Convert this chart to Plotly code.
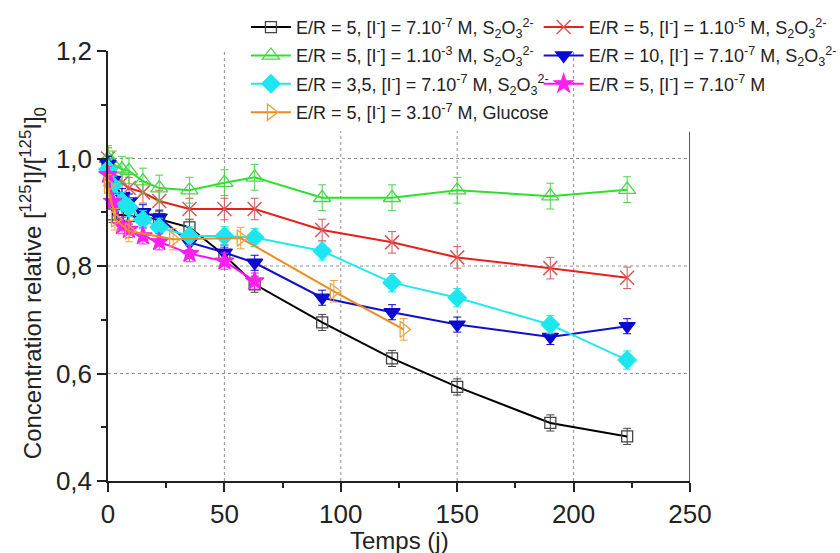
import plotly.graph_objects as go

# ---------------- data ----------------
t_common = [0, 2, 6, 9, 15, 22, 35, 50, 63, 92, 122, 150, 190, 223]
t_glucose = [0, 3, 9, 28, 57, 97, 127]

black_vals = [0.99, 0.896, 0.895, 0.893, 0.89, 0.887, 0.872, 0.82, 0.766, 0.695, 0.628, 0.575, 0.508, 0.483]
black_err = [0.015] * 14
red_vals = [1.0, 0.975, 0.955, 0.945, 0.937, 0.921, 0.906, 0.906, 0.906, 0.867, 0.844, 0.816, 0.796, 0.778]
red_err = [0.02] * 14
green_vals = [1.0, 0.99, 0.98, 0.977, 0.958, 0.945, 0.941, 0.955, 0.965, 0.927, 0.927, 0.941, 0.93, 0.942]
green_err = [0.024] * 14
blue_vals = [0.99, 0.96, 0.93, 0.92, 0.9, 0.89, 0.844, 0.825, 0.806, 0.741, 0.714, 0.691, 0.668, 0.688]
blue_err = [0.014] * 14
cyan_vals = [0.98, 0.95, 0.92, 0.909, 0.886, 0.872, 0.856, 0.856, 0.853, 0.828, 0.769, 0.741, 0.691, 0.625]
cyan_err = [0.017] * 14
magenta_vals = [0.97, 0.92, 0.875, 0.868, 0.856, 0.845, 0.823, 0.809, 0.772]
magenta_err = [0.015] * 9
orange_vals = [0.95, 0.887, 0.865, 0.85, 0.852, 0.753, 0.682]
orange_err = [0.02] * 7

names = [
    "E/R = 5, [I<sup>-</sup>] = 7.10<sup>-7</sup> M, S<sub>2</sub>O<sub>3</sub><sup>2-</sup>",
    "E/R = 5, [I<sup>-</sup>] = 1.10<sup>-5</sup> M, S<sub>2</sub>O<sub>3</sub><sup>2-</sup>",
    "E/R = 5, [I<sup>-</sup>] = 1.10<sup>-3</sup> M, S<sub>2</sub>O<sub>3</sub><sup>2-</sup>",
    "E/R = 10, [I<sup>-</sup>] = 7.10<sup>-7</sup> M, S<sub>2</sub>O<sub>3</sub><sup>2-</sup>",
    "E/R = 3,5, [I<sup>-</sup>] = 7.10<sup>-7</sup> M, S<sub>2</sub>O<sub>3</sub><sup>2-</sup>",
    "E/R = 5, [I<sup>-</sup>] = 7.10<sup>-7</sup> M",
    "E/R = 5, [I<sup>-</sup>] = 3.10<sup>-7</sup> M, Glucose",
]

x_ticks = [0, 50, 100, 150, 200, 250]
y_ticks = [0.4, 0.6, 0.8, 1.0, 1.2]
grid_x = [50, 100, 150, 200]
grid_y = [0.6, 0.8, 1.0]

FONT = "Liberation Sans, Arial, sans-serif"
TXT = "#222222"

fig = go.Figure()


def add(x, y, err, name, line_col, mk_col, symbol, size, legend, group, mlw=1.3):
    fig.add_trace(go.Scatter(
        x=x, y=y, name=name, mode="lines+markers", legend=legend, legendgroup=group,
        line=dict(color=line_col, width=2),
        marker=dict(symbol=symbol, size=size, color=mk_col,
                    line=dict(color=mk_col, width=mlw)),
        error_y=dict(type="data", array=err, visible=True, color=mk_col,
                     thickness=1, width=4),
        cliponaxis=False,
    ))


add(t_common, black_vals, black_err, names[0], "#000000", "#444444", "square-open", 11, "legend", "g1")
add(t_common, red_vals, red_err, names[1], "#e8201c", "#d45a5a", "x-thin-open", 14, "legend2", "g2", mlw=1.5)
add(t_common, green_vals, green_err, names[2], "#2ee02e", "#4cd44c", "triangle-up-open", 15, "legend", "g3")
add(t_common, blue_vals, blue_err, names[3], "#1010c8", "#0a0ad0", "triangle-down", 14, "legend2", "g4")
add(t_common, cyan_vals, cyan_err, names[4], "#22e8ee", "#1ee6f0", "diamond", 14, "legend", "g5")
add(t_common[:9], magenta_vals, magenta_err, names[5], "#ff10ff", "#ff20f0", "star", 14, "legend2", "g6")
add(t_glucose, orange_vals, orange_err, names[6], "#f08a20", "#f0a040", "triangle-right-open", 14, "legend", "g7")

# grid lines (dotted)
shapes = []
for gx in grid_x:
    shapes.append(dict(type="line", xref="x", yref="y", x0=gx, x1=gx, y0=0.4, y1=1.2,
                       line=dict(color="#909090", width=1, dash="dot"), layer="below"))
for gy in grid_y:
    shapes.append(dict(type="line", xref="x", yref="y", x0=0, x1=250, y0=gy, y1=gy,
                       line=dict(color="#909090", width=1, dash="dot"), layer="below"))
# right frame line
shapes.append(dict(type="line", xref="x", yref="y", x0=250, x1=250, y0=0.4, y1=1.05,
                   line=dict(color=TXT, width=1.5)))

fig.update_layout(
    width=840, height=553,
    margin=dict(l=108, r=150, t=51, b=72, autoexpand=False),
    paper_bgcolor="white", plot_bgcolor="white",
    separators=", ",
    font=dict(family=FONT, color=TXT),
    shapes=shapes,
    legend=dict(x=0.237, xanchor="left", y=0.984, yref="container", yanchor="top",
                bgcolor="white", font=dict(size=18, family=FONT, color=TXT),
                itemwidth=40, tracegroupgap=2),
    legend2=dict(x=0.74, xanchor="left", y=0.984, yref="container", yanchor="top",
                 bgcolor="rgba(255,255,255,0)", font=dict(size=18, family=FONT, color=TXT),
                 itemwidth=40, tracegroupgap=2),
    xaxis=dict(range=[0, 250], tickvals=x_ticks, showgrid=False, zeroline=False,
               showline=True, linecolor=TXT, linewidth=1.5,
               ticks="outside", ticklen=9, tickwidth=1.5, tickcolor=TXT,
               tickfont=dict(size=26, family=FONT, color=TXT),
               minor=dict(dtick=25, ticks="outside", ticklen=5, tickcolor=TXT, showgrid=False)),
    yaxis=dict(range=[0.4, 1.2], tickvals=y_ticks, tickformat=".1f", showgrid=False, zeroline=False,
               showline=True, linecolor=TXT, linewidth=1.5,
               ticks="outside", ticklen=9, tickwidth=1.5, tickcolor=TXT,
               tickfont=dict(size=26, family=FONT, color=TXT),
               minor=dict(dtick=0.1, ticks="outside", ticklen=5, tickcolor=TXT, showgrid=False)),
    annotations=[
        dict(text="Concentration relative [<sup>125</sup>I]/[<sup>125</sup>I]<sub>0</sub>",
             xref="paper", yref="paper", x=0, y=0.46, xshift=-75, textangle=-90,
             xanchor="center", yanchor="middle", showarrow=False,
             font=dict(size=24, family=FONT, color=TXT)),
        dict(text="Temps (j)", xref="paper", yref="paper", x=0.5, y=0, yshift=-59,
             xanchor="center", yanchor="middle", showarrow=False,
             font=dict(size=24, family=FONT, color=TXT)),
    ],
)

fig.write_html("out.html", config={"displayModeBar": False},
               post_script="document.body.style.margin='0px';")
